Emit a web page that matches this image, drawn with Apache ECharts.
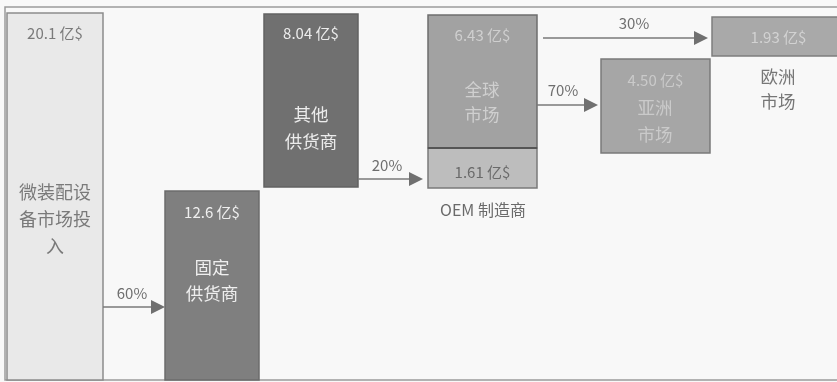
<!DOCTYPE html>
<html>
<head>
<meta charset="utf-8">
<script src="https://cdn.jsdelivr.net/npm/echarts@6/dist/echarts.min.js"></script>
<style>
html,body{margin:0;padding:0;background:#f8f8f8;}
#chart{width:837px;height:382px;}
</style>
</head>
<body>
<div id="chart"></div>
<script>
// ---- data ----
const nodeNames = ['微装配设\n备市场投\n入', '固定\n供货商', '其他\n供货商', '全球\n市场', 'OEM 制造商', '亚洲\n市场', '欧洲\n市场'];
const nodeValues = [20.1, 12.6, 8.04, 6.43, 1.61, 4.50, 1.93];
const valueUnit = '亿$';
const flowFrom = [0, 2, 3, 3];
const flowTo = [1, 4, 5, 6];
const flowShares = [60, 20, 70, 30];

// ---- layout (diagram geometry, in axis units = pixels) ----
const nodeBox = [
  [7, 13, 103, 380],
  [165, 191, 259, 380],
  [264, 14, 358, 187],
  [428, 15, 537, 148],
  [428, 148, 537, 188],
  [601, 59, 710, 153],
  [712, 17, 845, 56]
];
const nodeValueY = [33, 212, 33, 35, 172, 80, 37];
const nodeNameTop = [179, 254, 101, 77, 198, 94, 64];
const nodeNameLH = [27, 26, 27, 25, 24, 27, 25];
const nodeNameX = [55, 212, 311, 482, 483, 655, 778];
const nodeNameSize = [18, 17.5, 17.5, 17.5, 16, 17.5, 17.5];
const nodeFill = ['#e9e9e9', '#7f7f7f', '#707070', '#a2a2a2', '#bdbdbd', '#a6a6a6', '#a9a9a9'];
const nodeStroke = ['#8c8c8c', '#6c6c6c', '#626262', '#6e6e6e', '#7a7a7a', '#7a7a7a', '#7e7e7e'];
const nodeValueColor = ['#7a7a7a', '#efefef', '#ececec', '#cfcfcf', '#6a6a6a', '#cacaca', '#d2d2d2'];
const nodeNameColor = ['#7a7a7a', '#efefef', '#ececec', '#cfcfcf', '#6a6a6a', '#cacaca', '#777777'];
const flowLine = [[103, 307, 165], [358, 179, 423], [537, 105, 598], [543, 38, 708]];
const flowLabelPos = [[132, 293], [387, 165], [563, 90], [634, 23]];

function fmt(v) { return v >= 10 ? v.toFixed(1) : v.toFixed(2); }

const chart = echarts.init(document.getElementById('chart'));
const FONT = '"Noto Sans CJK SC", "Noto Sans", sans-serif';

chart.setOption({
  backgroundColor: '#f8f8f8',
  animation: false,
  grid: {left: 0, right: 0, top: 0, bottom: 0},
  xAxis: {type: 'value', min: 0, max: 837, show: false},
  yAxis: {type: 'value', min: 0, max: 382, inverse: true, show: false},
  graphic: [{
    type: 'rect', z: -1,
    shape: {x: 5, y: 7, width: 840, height: 373},
    style: {fill: 'none', stroke: '#9a9a9a', lineWidth: 1.5}
  }],
  series: [
    {
      type: 'custom',
      clip: false,
      data: nodeValues.map((v, i) => [i, v]),
      encode: {x: 0, y: 1},
      renderItem: function (params, api) {
        const i = params.dataIndex;
        const b = nodeBox[i];
        const p0 = api.coord([b[0], b[1]]);
        const p1 = api.coord([b[2], b[3]]);
        const cx = (p0[0] + p1[0]) / 2;
        const children = [{
          type: 'rect',
          shape: {x: p0[0], y: p0[1], width: p1[0] - p0[0], height: p1[1] - p0[1]},
          style: {fill: nodeFill[i], stroke: nodeStroke[i], lineWidth: 1.5}
        }, {
          type: 'text',
          style: {
            text: fmt(api.value(1)) + ' ' + valueUnit,
            x: cx, y: api.coord([0, nodeValueY[i]])[1],
            align: 'center', verticalAlign: 'middle',
            fontSize: 15, fontFamily: FONT, fill: nodeValueColor[i]
          }
        }, {
          type: 'text',
          style: {
            text: nodeNames[i],
            x: api.coord([nodeNameX[i], 0])[0], y: api.coord([0, nodeNameTop[i]])[1],
            align: 'center', verticalAlign: 'top',
            fontSize: nodeNameSize[i], lineHeight: nodeNameLH[i],
            fontFamily: FONT, fill: nodeNameColor[i]
          }
        }];
        if (i === 4) {
          children.push({
            type: 'line',
            shape: {x1: p0[0], y1: p0[1], x2: p1[0], y2: p0[1]},
            style: {stroke: '#555555', lineWidth: 2}
          });
        }
        return {type: 'group', children: children};
      }
    },
    {
      type: 'custom',
      clip: false,
      data: flowShares.map((s, i) => [i, s]),
      encode: {x: 0, y: 1},
      renderItem: function (params, api) {
        const i = params.dataIndex;
        const f = flowLine[i];
        const a = api.coord([f[0], f[1]]);
        const b = api.coord([f[2], f[1]]);
        const lp = api.coord(flowLabelPos[i]);
        return {
          type: 'group',
          children: [{
            type: 'line',
            shape: {x1: a[0], y1: a[1], x2: b[0] - 12, y2: b[1]},
            style: {stroke: '#7a7a7a', lineWidth: 1.5}
          }, {
            type: 'polygon',
            shape: {points: [[b[0] - 14, b[1] - 7], [b[0], b[1]], [b[0] - 14, b[1] + 7]]},
            style: {fill: '#707070'}
          }, {
            type: 'text',
            style: {
              text: api.value(1) + '%',
              x: lp[0], y: lp[1], align: 'center', verticalAlign: 'middle',
              fontSize: 15, fontFamily: FONT, fill: '#6e6e6e'
            }
          }]
        };
      }
    }
  ]
});
</script>
</body>
</html>
